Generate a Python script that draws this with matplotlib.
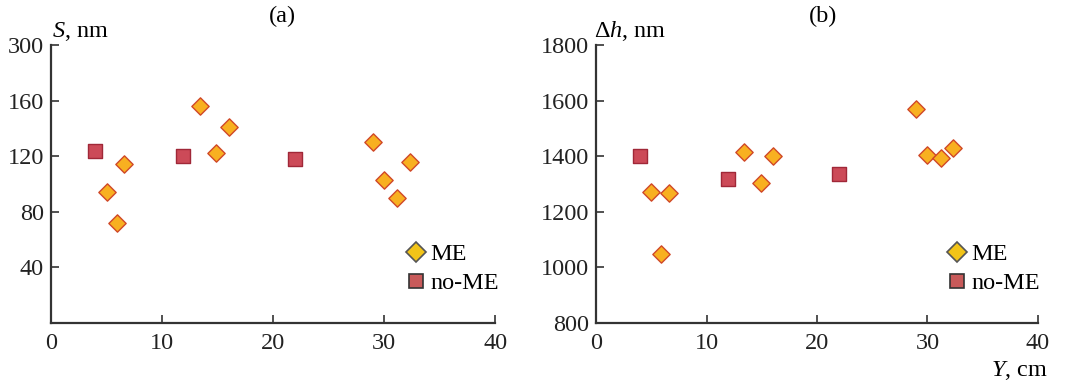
import matplotlib
matplotlib.use("Agg")
import matplotlib.pyplot as plt
from matplotlib.lines import Line2D

plt.rcParams['font.family'] = ['Liberation Serif', 'DejaVu Serif']
plt.rcParams['mathtext.fontset'] = 'custom'
plt.rcParams['mathtext.rm'] = 'Liberation Serif'
plt.rcParams['mathtext.it'] = 'Liberation Serif:italic'

# Y position, cm
x_me = [5.0, 5.9, 6.6, 13.4, 14.9, 16.0, 29.0, 30.0, 31.2, 32.3]
x_nome = [4.0, 11.9, 22.0]

# (a) S, nm
s_me = [94, 72, 114, 156, 122, 141, 130, 103, 90, 116]
s_nome = [124, 120, 118]

# (b) delta h, nm
dh_me = [1272, 1048, 1268, 1414, 1303, 1402, 1571, 1404, 1395, 1428]
dh_nome = [1399, 1317, 1337]

xticks = [0, 10, 20, 30, 40]
s_ticks = [40, 80, 120, 160, 200]
s_ticklabels = ['40', '80', '120', '160', '300']
dh_ticks = [800, 1000, 1200, 1400, 1600, 1800]

me_face = '#f8b020'
me_edge = '#d04828'
nome_face = '#cc4a58'
nome_edge = '#a02838'
axis_col = '#333333'
fs = 17.5

fig = plt.figure(figsize=(10.67, 3.83), dpi=100)
axa = fig.add_axes([0.0478, 0.157, 0.4162, 0.7255])
axb = fig.add_axes([0.5586, 0.157, 0.4142, 0.7255])


def style(ax):
    for s in ['top', 'right']:
        ax.spines[s].set_visible(False)
    for s in ['left', 'bottom']:
        ax.spines[s].set_color(axis_col)
        ax.spines[s].set_linewidth(1.6)
    ax.tick_params(direction='in', length=6, width=1.2, color=axis_col,
                   labelsize=fs, labelcolor='#222222')
    ax.tick_params(axis='x', pad=7)
    ax.tick_params(axis='y', pad=5)
    ax.set_xlim(0, 40)
    ax.set_xticks(xticks)


def points(ax, ym, yn, anchor_x):
    ax.scatter(x_nome, yn, marker='s', s=9.5**2, c=nome_face,
               edgecolors=nome_edge, linewidths=1.0, zorder=3)
    ax.scatter(x_me, ym, marker='D', s=8.8**2, c=me_face,
               edgecolors=me_edge, linewidths=1.0, zorder=3)
    handles = [
        Line2D([], [], ls='none', marker='D', ms=10.5, mfc='#f2c418',
               mec='#555555', mew=1.2, label='ME'),
        Line2D([], [], ls='none', marker='s', ms=10.5, mfc='#c85a5a',
               mec='#333333', mew=1.2, label='no-ME'),
    ]
    ax.legend(handles=handles, loc='lower right', bbox_to_anchor=(anchor_x, 0.05),
              frameon=False, fontsize=fs, handletextpad=0.0,
              labelspacing=0.3, borderaxespad=0.2, handlelength=1.2)


style(axa)
points(axa, s_me, s_nome, 1.042)
axa.set_ylim(0, 200)
axa.set_yticks(s_ticks)
axa.set_yticklabels(s_ticklabels)
axa.text(0.002, 1.03, '$S$, nm', transform=axa.transAxes, fontsize=fs,
         ha='left', va='baseline')
fig.text(282 / 1067, 1 - 16 / 383, '(a)', fontsize=fs, ha='center', va='center')

style(axb)
points(axb, dh_me, dh_nome, 1.038)
axb.set_ylim(800, 1800)
axb.set_yticks(dh_ticks)
axb.text(-0.005, 1.03, '$\\Delta h$, nm', transform=axb.transAxes, fontsize=fs,
         ha='left', va='baseline')
fig.text(823 / 1067, 1 - 16 / 383, '(b)', fontsize=fs, ha='center', va='center')
fig.text(1048 / 1067, 1 - 370 / 383, '$Y$, cm', fontsize=fs, ha='right',
         va='center')

fig.savefig('out.png', dpi=100)
